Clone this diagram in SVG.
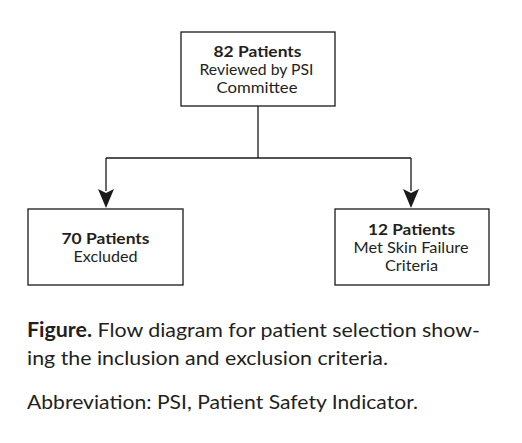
<svg xmlns="http://www.w3.org/2000/svg" width="522" height="443" viewBox="0 0 522 443">
<style>
.box{fill:#fff;stroke:#1a1a1a;stroke-width:1.3}
.t{font-family:Lato,"Noto Sans",sans-serif;font-size:15px;fill:#231f20;text-anchor:middle}
.b{font-weight:bold}
.c{font-family:Lato,"Noto Sans",sans-serif;font-size:20px;fill:#231f20}
.ln{fill:none;stroke:#1a1a1a;stroke-width:1.3}
.ah{fill:#1a1a1a}
</style>
<rect width="522" height="443" fill="#fff"/>
<g id="connectors">
<path class="ln" d="M258,106 V158"/>
<path class="ln" d="M106,158 H411"/>
<path class="ln" d="M106,158 V191"/>
<path class="ln" d="M411,158 V191"/>
<path class="ah" d="M98,189 L106,193 L114,189 L106,208 Z"/>
<path class="ah" d="M403,189 L411,193 L419,189 L411,208 Z"/>
</g>
<g id="node-top">
<rect class="box" x="181" y="32" width="154" height="74"/>
<text class="t b" x="257.5" y="57" textLength="88" lengthAdjust="spacingAndGlyphs">82 Patients</text>
<text class="t" x="256.5" y="75" textLength="114" lengthAdjust="spacingAndGlyphs">Reviewed by PSI</text>
<text class="t" x="257" y="93" textLength="81" lengthAdjust="spacingAndGlyphs">Committee</text>
</g>
<g id="node-left">
<rect class="box" x="28" y="209" width="155" height="76"/>
<text class="t b" x="105.5" y="244" textLength="88" lengthAdjust="spacingAndGlyphs">70 Patients</text>
<text class="t" x="105.5" y="262" textLength="64" lengthAdjust="spacingAndGlyphs">Excluded</text>
</g>
<g id="node-right">
<rect class="box" x="335" y="209" width="154" height="76"/>
<text class="t b" x="411.5" y="235" textLength="87" lengthAdjust="spacingAndGlyphs">12 Patients</text>
<text class="t" x="411" y="253" textLength="115" lengthAdjust="spacingAndGlyphs">Met Skin Failure</text>
<text class="t" x="411.5" y="271" textLength="53" lengthAdjust="spacingAndGlyphs">Criteria</text>
</g>
<g id="caption">
<text class="c" x="27" y="337" textLength="453" lengthAdjust="spacingAndGlyphs"><tspan font-weight="bold">Figure.</tspan> Flow diagram for patient selection show-</text>
<text class="c" x="27" y="365" textLength="361" lengthAdjust="spacingAndGlyphs">ing the inclusion and exclusion criteria.</text>
<text class="c" x="27" y="409" textLength="391" lengthAdjust="spacingAndGlyphs">Abbreviation: PSI, Patient Safety Indicator.</text>
</g>
</svg>
